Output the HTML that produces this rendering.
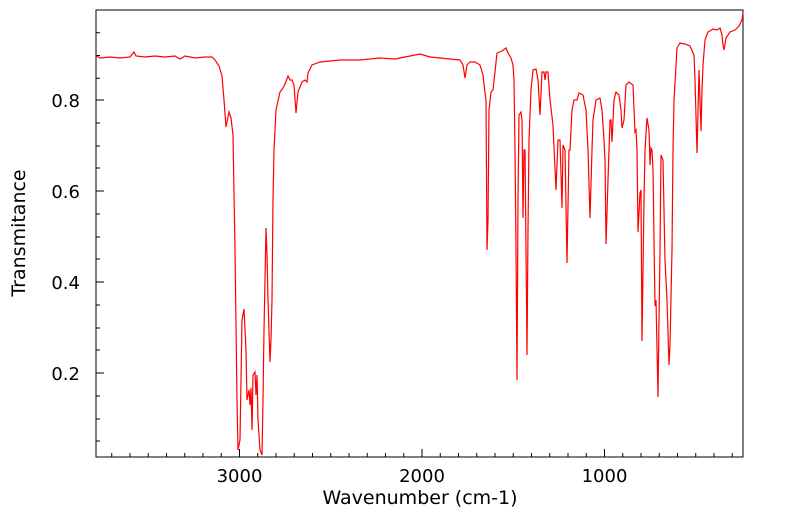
<!DOCTYPE html><html><head><style>body{margin:0;background:#fff}svg{display:block;font-family:"DejaVu Sans","Liberation Sans",sans-serif}</style></head><body>
<svg width="799" height="516" viewBox="0 0 799 516">
<rect x="96" y="10" width="647" height="447" fill="none" stroke="#000" stroke-width="1"/>
<g stroke="#000" stroke-width="1" fill="none">
<path d="M96,100h8M96,191h8M96,282h8M96,373h8"/>
<path d="M96,32.7h4M96,55.5h4M96,78.2h4M96,123h4M96,146h4M96,168h4M96,214h4M96,237h4M96,259h4M96,305h4M96,328h4M96,350h4M96,396h4M96,419h4M96,441h4"/>
<path d="M239.5,457v-8M422,457v-8M604.5,457v-8"/>
<path d="M111.75,457v-4M130,457v-4M148.25,457v-4M166.5,457v-4M184.75,457v-4M203,457v-4M221.25,457v-4M257.75,457v-4M276,457v-4M294.25,457v-4M312.5,457v-4M330.75,457v-4M349,457v-4M367.25,457v-4M385.5,457v-4M403.75,457v-4M440.25,457v-4M458.5,457v-4M476.75,457v-4M495,457v-4M513.25,457v-4M531.5,457v-4M549.75,457v-4M568,457v-4M586.25,457v-4M622.75,457v-4M641,457v-4M659.25,457v-4M677.5,457v-4M695.75,457v-4M714,457v-4M732.25,457v-4"/>
</g>
<g font-size="18" fill="#000" text-anchor="end">
<text x="80" y="107">0.8</text><text x="80" y="198">0.6</text><text x="80" y="289">0.4</text><text x="80" y="380">0.2</text>
</g>
<g font-size="18" fill="#000" text-anchor="middle">
<text x="239.5" y="482">3000</text><text x="422" y="482">2000</text><text x="604.5" y="482">1000</text>
<text x="420" y="504" font-size="19">Wavenumber (cm-1)</text>
<text transform="translate(25,233) rotate(-90)" font-size="19">Transmitance</text>
</g>
<polyline fill="none" stroke="#f00" stroke-width="1.2" points="96,56 100,58 110,57 120,58 130,57 134,52 136,56 145,57 155,56 165,57 175,56 180,59 185,56 195,58 205,57 212,57 215,60 219,66 222,76 224,100 226,127 229,112 231,118 233,135 235,250 237,400 238,450 240,440 241,380 242,320 244,309 246,350 247,400 249,390 250,405 251,388 252,430 253,375 255,372 256,395 257,375 258,420 260,450 262,455 263,400 264,330 266,228 267,255 268,300 270,362 271,340 272,300 273,200 274,150 276,110 280,92 283,88 285,84 288,76 290,80 292,80 294,85 296,113 298,92 302,82 305,80 307,82 308,73 312,65 320,62 330,61 340,60 360,60 380,58 395,59 400,58 410,56 420,54 430,57 440,58 450,59 460,60 463,65 465,78 467,65 470,62 475,62 480,65 483,75 485,93 486,100 487,250 488,220 489,110 491,92 493,90 495,72 497,53 502,51 506,48 508,53 511,58 513,65 514,80 515,150 516,250 517,380 518,200 519,115 521,112 522,120 523,218 524,150 525,150 526,250 527,355 528,230 529,140 531,90 533,70 536,69 538,80 540,115 542,72 544,72 545,80 546,72 548,72 550,100 553,125 556,190 558,140 560,140 562,208 563,145 565,150 567,263 569,150 570,150 572,110 574,100 577,100 579,93 583,95 586,110 588,150 590,218 592,150 593,120 596,100 600,98 602,110 604,140 605,160 606,244 608,180 610,120 611,120 612,142 614,100 616,92 619,95 621,110 622,128 624,120 626,85 629,82 633,85 635,132 636,130 637,150 638,232 640,193 641,190 642,341 644,200 645,150 647,118 649,130 650,165 651,148 652,150 653,170 654,240 655,306 656,300 658,397 659,320 660,250 661,155 663,160 665,260 667,300 669,365 670,345 672,250 673,150 674,100 677,48 680,43 685,44 690,46 694,55 695,80 697,153 699,70 701,131 702,90 703,65 705,40 708,32 713,29 717,30 720,28 722,35 723,45 724,50 726,38 730,32 735,30 739,26 742,20 743,12"/>
</svg>
</body></html>
